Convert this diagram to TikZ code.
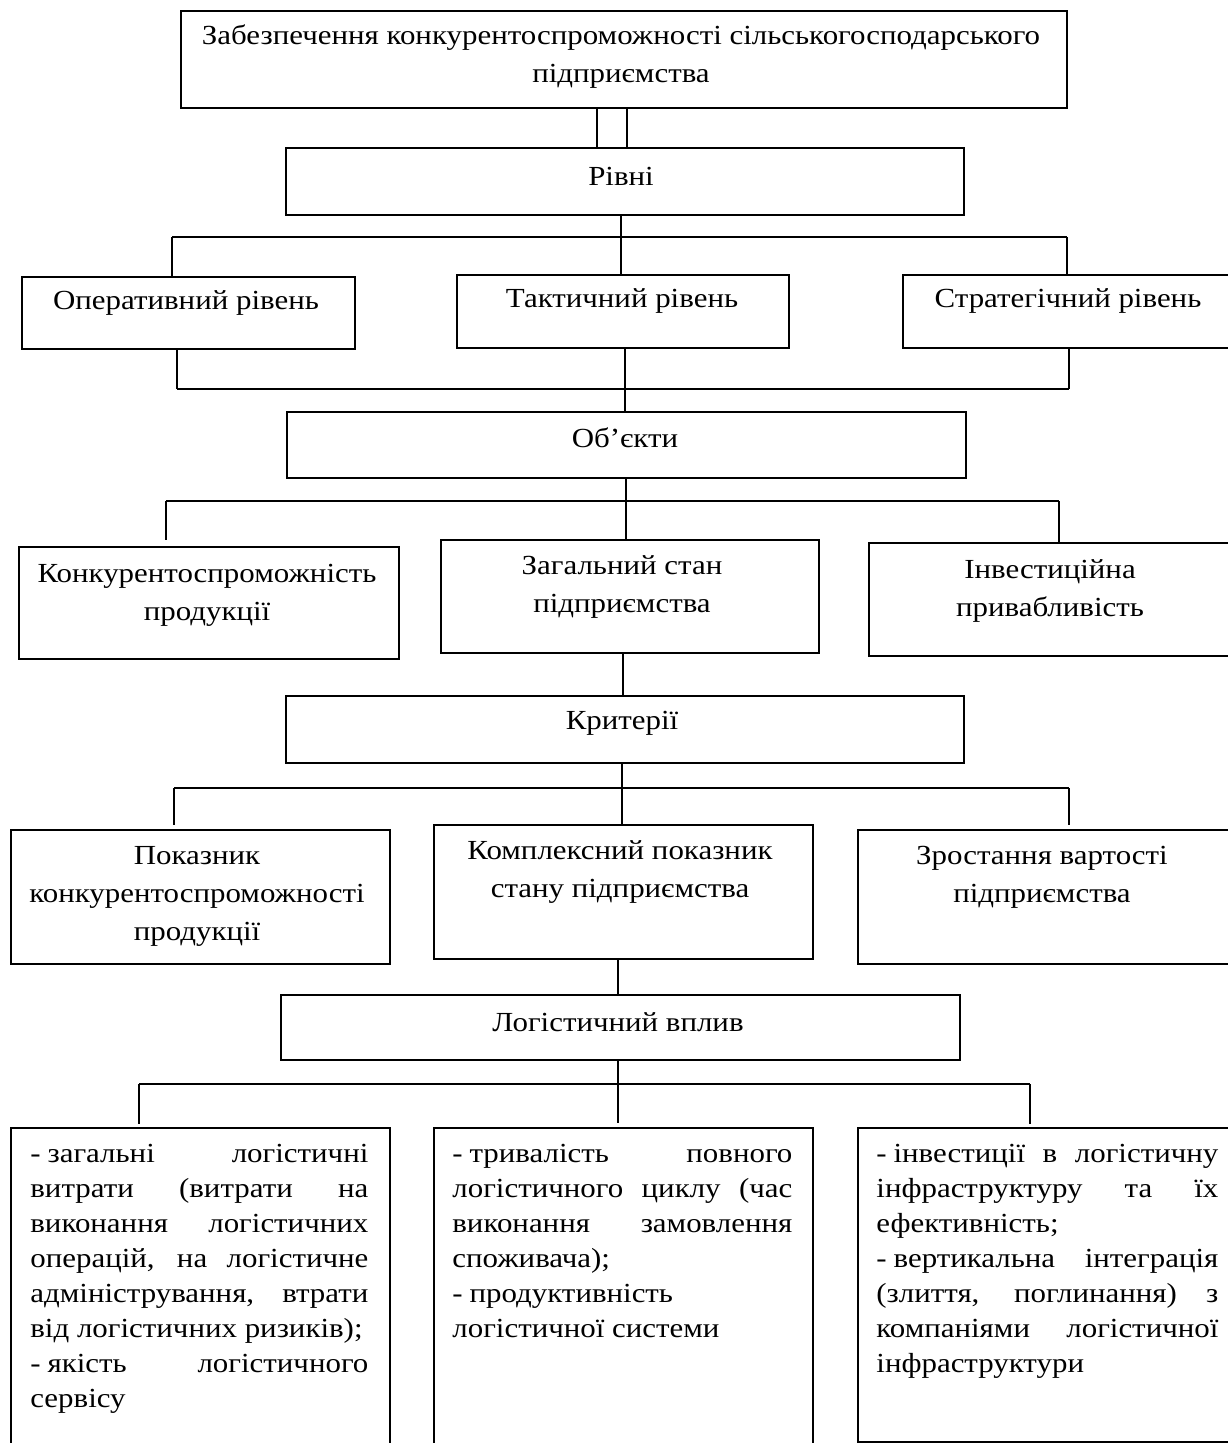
\documentclass[tikz,border=0pt]{standalone}
\usepackage{fontspec}
\setmainfont[FakeStretch=1.12]{Liberation Serif}
\begin{document}
\begin{tikzpicture}[x=0.5pt,y=-0.5pt,
  box/.style={draw, line width=1pt, inner sep=0pt, anchor=north west},
  lbl/.style={align=center, inner sep=0pt, font=\fontsize{13.8}{19}\selectfont},
  btxt/.style={align=justify, inner sep=0pt, anchor=north west, font=\fontsize{13.8}{17.5}\selectfont},
  conn/.style={line width=0.7pt},
  bar/.style={line width=1.1pt}]
\useasboundingbox (0,0) rectangle (1227,1443);
\newcommand\mkbox[5]{\node[box, minimum width={(#4-#2)*0.5pt}, minimum height={(#5-#3)*0.5pt}] (#1) at (#2,#3) {};}
% boxes
\mkbox{top}{180}{10}{1066}{107}
\mkbox{rivni}{285}{147}{963}{214}
\mkbox{oper}{21}{276}{354}{348}
\mkbox{takt}{456}{274}{788}{347}
\mkbox{strat}{902}{274}{1240}{347}
\mkbox{obj}{286}{411}{965}{477}
\mkbox{konk}{18}{546}{398}{658}
\mkbox{zag}{440}{539}{818}{652}
\mkbox{inv}{868}{542}{1240}{655}
\mkbox{krit}{285}{695}{963}{762}
\mkbox{pok}{10}{829}{389}{963}
\mkbox{kompl}{433}{824}{812}{958}
\mkbox{zrost}{857}{829}{1240}{963}
\mkbox{log}{280}{994}{959}{1059}
\mkbox{b1}{10}{1127}{389}{1460}
\mkbox{b2}{433}{1127}{812}{1460}
\mkbox{b3}{857}{1127}{1240}{1441}
% labels
\node[lbl] (top-t) at (621,57) {Забезпечення конкурентоспроможності сільськогосподарського\\підприємства};
\node[lbl] (rivni-t) at (621,176) {Рівні};
\node[lbl] (oper-t) at (186,303) {Оперативний рівень};
\node[lbl] (takt-t) at (622,301) {Тактичний рівень};
\node[lbl] (strat-t) at (1068,301) {Стратегічний рівень};
\node[lbl] (obj-t) at (625,438) {Об’єкти};
\node[lbl] (konk-t) at (207,595) {Конкурентоспроможність\\продукції};
\node[lbl] (zag-t) at (622,587) {Загальний стан\\підприємства};
\node[lbl] (inv-t) at (1050,591) {Інвестиційна\\привабливість};
\node[lbl] (krit-t) at (622,723) {Критерії};
\node[lbl] (pok-t) at (197,896) {Показник\\конкурентоспроможності\\продукції};
\node[lbl] (kompl-t) at (620,872) {Комплексний показник\\стану підприємства};
\node[lbl] (zrost-t) at (1042,877) {Зростання вартості\\підприємства};
\node[lbl] (log-t) at (618,1022) {Логістичний вплив};
\node[btxt, text width=169pt] (b1-t) at (30,1144) {-\kern0.25em загальні логістичні\linebreak витрати (витрати на\linebreak виконання логістичних\linebreak операцій, на логістичне\linebreak адміністрування, втрати\linebreak від логістичних ризиків);\\-\kern0.25em якість логістичного\linebreak сервісу};
\node[btxt, text width=170pt] (b2-t) at (452,1144) {-\kern0.25em тривалість повного\linebreak логістичного циклу (час\linebreak виконання замовлення\linebreak споживача);\\-\kern0.25em продуктивність\\логістичної системи};
\node[btxt, text width=171pt] (b3-t) at (876,1144) {-\kern0.25em інвестиції в логістичну\linebreak інфраструктуру та їх\linebreak ефективність;\\-\kern0.25em вертикальна інтеграція\linebreak (злиття, поглинання) з\linebreak компаніями логістичної\linebreak інфраструктури};
% coordinates
\coordinate (d1) at (597,0); \coordinate (d2) at (627,0);
\coordinate (v1) at (621,0); \coordinate (v2) at (625,0);
\coordinate (v3) at (626,0); \coordinate (v4) at (623,0);
\coordinate (v5) at (622,0); \coordinate (v6) at (618,0);
\coordinate (h1l) at (172,237); \coordinate (h1r) at (1067,237);
\coordinate (h2l) at (177,389); \coordinate (h2r) at (1069,389);
\coordinate (h3l) at (166,501); \coordinate (h3r) at (1059,501);
\coordinate (h4l) at (174,788); \coordinate (h4r) at (1069,788);
\coordinate (h5l) at (139,1084); \coordinate (h5r) at (1030,1084);
% connectors: top -> rivni (double)
\draw[conn] (top.south -| d1) -- (rivni.north -| d1);
\draw[conn] (top.south -| d2) -- (rivni.north -| d2);
% level 1
\draw[bar] (h1l) -- (h1r);
\draw[conn] (rivni.south -| v1) -- (takt.north -| v1);
\draw[conn] (h1l) -- (h1l |- oper.north);
\draw[conn] (h1r) -- (h1r |- strat.north);
% level 2
\draw[bar] (h2l) -- (h2r);
\draw[conn] (oper.south -| h2l) -- (h2l);
\draw[conn] (strat.south -| h2r) -- (h2r);
\draw[conn] (takt.south -| v2) -- (obj.north -| v2);
% level 3
\draw[bar] (h3l) -- (h3r);
\draw[conn] (obj.south -| v3) -- (zag.north -| v3);
\draw[conn] (h3l) -- ([yshift=3pt]h3l |- konk.north);
\draw[conn] (h3r) -- (h3r |- inv.north);
\draw[conn] (zag.south -| v4) -- (krit.north -| v4);
% level 4
\draw[bar] (h4l) -- (h4r);
\draw[conn] (krit.south -| v5) -- (kompl.north -| v5);
\draw[conn] (h4l) -- ([yshift=2pt]h4l |- pok.north);
\draw[conn] (h4r) -- ([yshift=2pt]h4r |- zrost.north);
\draw[conn] (kompl.south -| v6) -- (log.north -| v6);
% level 5
\draw[bar] (h5l) -- (h5r);
\draw[conn] (log.south -| v6) -- ([yshift=2pt]b2.north -| v6);
\draw[conn] (h5l) -- ([yshift=1.5pt]h5l |- b1.north);
\draw[conn] (h5r) -- ([yshift=1.5pt]h5r |- b3.north);
\end{tikzpicture}
\end{document}
